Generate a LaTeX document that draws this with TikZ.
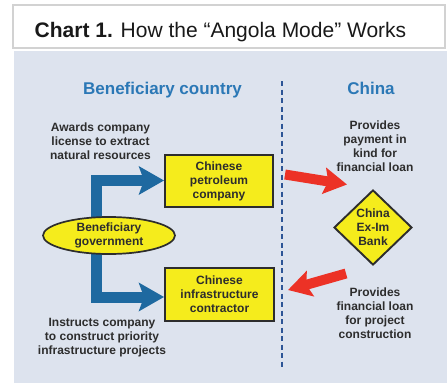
\documentclass[tikz,border=0pt]{standalone}
\usepackage{fontspec}
\setmainfont{Liberation Sans}
\usetikzlibrary{arrows.meta,shapes.geometric,calc}
\definecolor{panelbg}{RGB}{221,227,238}
\definecolor{headblue}{RGB}{43,120,182}
\definecolor{flowblue}{RGB}{30,105,160}
\definecolor{flowred}{RGB}{236,50,38}
\definecolor{boxyellow}{RGB}{245,236,28}
\definecolor{ink}{RGB}{45,45,45}
\definecolor{titleink}{RGB}{25,25,25}
\definecolor{divider}{RGB}{45,85,150}
\definecolor{frame}{RGB}{210,210,210}
\pgfdeclarelayer{panel}
\pgfdeclarelayer{links}
\pgfsetlayers{panel,links,main}

\begin{document}
\begin{tikzpicture}[x=1pt,y=-1pt,
  note/.style={align=center,text=ink,inner sep=0pt,
    font=\bfseries\fontsize{12}{14}\selectfont},
  heading/.style={text=headblue,inner sep=0pt,anchor=base,
    font=\bfseries\fontsize{17}{19}\selectfont},
  yellowbox/.style={draw=ink,line width=1.9pt,fill=boxyellow,align=center,
    text=ink,inner sep=0pt,font=\bfseries\fontsize{12}{14}\selectfont},
  bluelink/.style={draw=flowblue,line width=11pt,line join=miter,
    {Stealth[length=25pt,width=28pt,inset=5pt]}-{Stealth[length=25pt,width=28pt,inset=5pt]}},
  redlink/.style={draw=flowred,line width=10pt,
    -{Stealth[length=23pt,width=26pt,inset=4pt]}},
]
\useasboundingbox (0,0) rectangle (447,383);

% title strip and background panel
\node[draw=frame,line width=1.5pt,fill=white,minimum width=432pt,
      minimum height=43pt,inner sep=0pt] (titlebox) at (229,26.5) {};
\node[anchor=base,inner sep=0pt,text=titleink,font=\fontsize{21}{24}\selectfont]
  (title) at (220.5,37) {\textbf{Chart 1.} How the “Angola Mode” Works};
\begin{pgfonlayer}{panel}
  \fill[panelbg] (14,51) rectangle (447,383);
\end{pgfonlayer}

% column headings and divider
\node[heading] (leftcol) at (162.5,94) {Beneficiary country};
\node[heading] (rightcol) at (371,94) {China};
\coordinate (divtop) at (282,81);
\coordinate (divbot) at (282,368);
\draw[divider,line width=2pt,dash pattern=on 5pt off 3.5pt] (divtop) -- (divbot);

% actors
\node[yellowbox,minimum width=108pt,minimum height=52pt] (petro) at (219,181)
  {Chinese\\petroleum\\company};
\node[yellowbox,minimum width=109pt,minimum height=53pt] (infra) at (219.5,294.5)
  {Chinese\\infrastructure\\contractor};
\node[ellipse,draw=ink,line width=1.7pt,fill=boxyellow,minimum width=132pt,
      minimum height=37pt,inner sep=0pt,align=center,text=ink,
      font=\bfseries\fontsize{12}{13.5}\selectfont] (gov) at (109,235.5)
  {Beneficiary\\government};
\node[diamond,draw=ink,line width=1.9pt,fill=boxyellow,minimum width=78pt,
      minimum height=75pt,inner sep=0pt] (bank) at (373,227.5) {};
\node[note,text=ink] (banktext) at (bank.center) {China\\Ex-Im\\Bank};

% explanatory notes
\node[note] (awards) at (100.5,141) {Awards company\\license to extract\\natural resources};
\node[note] (instructs) at (102,338) {Instructs company\\to construct priority\\infrastructure projects};
\node[note] (payment) at (375,146.5) {Provides\\payment in\\kind for\\financial loan};
\node[note] (loan) at (375,313) {Provides\\financial loan\\for project\\construction};

% flows
\coordinate (spine) at (96,235);
\coordinate (payfrom) at (285,174.5);
\coordinate (payto) at (347,184.5);
\coordinate (loanfrom) at (346,273.5);
\coordinate (loanto) at (288,290);
\begin{pgfonlayer}{links}
  \draw[bluelink] ([yshift=0.5pt]petro.west) -| (spine) |- ([yshift=-2.5pt]infra.west);
  \draw[redlink] (payfrom) -- (payto);
  \draw[redlink] (loanfrom) -- (loanto);
\end{pgfonlayer}
\end{tikzpicture}
\end{document}
